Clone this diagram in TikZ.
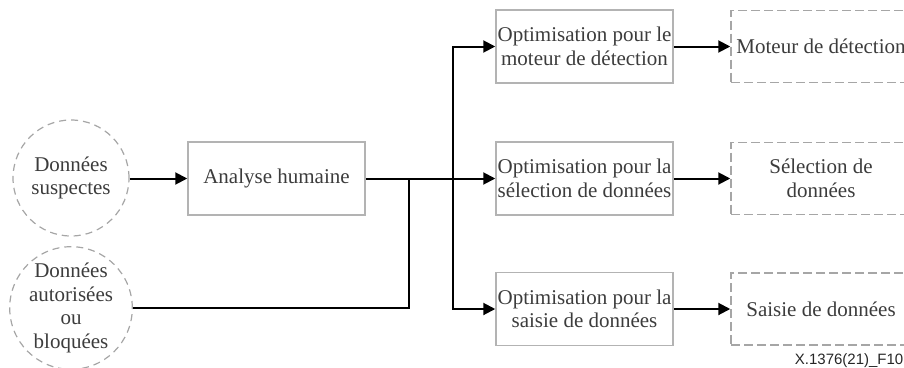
\documentclass[tikz,border=0pt]{standalone}
\usepackage{fontspec}
\setmainfont{Liberation Serif}
\newfontfamily\labelfont{Liberation Sans}
\usetikzlibrary{arrows.meta}
\definecolor{txt}{HTML}{3C3C3C}
\definecolor{boxline}{HTML}{B3B3B3}
\definecolor{dashline}{HTML}{A6A6A6}
\tikzset{
  base/.style={text=txt, font=\fontsize{21}{23.5}\selectfont, align=center, inner sep=0pt},
  procbox/.style={base, draw=boxline, line width=1.5pt, minimum width=177pt, minimum height=73pt},
  extbox/.style={base, draw=dashline, line width=1.5pt, dash pattern=on 9pt off 4pt, minimum width=180pt, minimum height=72pt},
  srccircle/.style={base, circle, draw=dashline, line width=1.2pt, dash pattern=on 7pt off 5pt, minimum size=116pt},
  flow/.style={line width=2pt, black},
  arr/.style={flow, -{Triangle[length=12pt,width=12pt]}},
}
\begin{document}
\begin{tikzpicture}[x=1pt,y=-1pt]
\useasboundingbox (0,0) rectangle (904,367);
\clip (0,0) rectangle (904,367);

% sources
\node[srccircle] (src1) at (71,178) {Données\\suspectes};
\node[srccircle] (src2) at (71,308) {Données\\autorisées\\ou\\bloquées};

% analysis
\node[procbox] (ana) at (276.5,178.5) {Analyse humaine};

% optimisation stages
\node[procbox] (opt1) at (584.5,46.5) {Optimisation pour le\\moteur de détection};
\node[procbox] (opt2) at (584.5,178.5) {Optimisation pour la\\sélection de données};
\node[procbox] (opt3) at (584.5,309) {Optimisation pour la\\saisie de données};

% consumers
\node[extbox] (ext1) at (821,46.5) {Moteur de détection};
\node[extbox] (ext2) at (821,178.5) {Sélection de\\données};
\node[extbox] (ext3) at (821,309) {Saisie de données};

% junctions
\coordinate (merge) at (409,178.5);
\coordinate (fan) at (453,178.5);

% connectors
\draw[arr] (src1.east |- ana.west) -- (ana.west);
\draw[arr] (ana.east) -- (opt2.west);
\draw[flow] (src2.east) -| (merge);
\draw[arr] (fan) |- (opt1.west);
\draw[arr] (fan) |- (opt3.west);
\draw[arr] (opt1.east) -- (ext1.west);
\draw[arr] (opt2.east) -- (ext2.west);
\draw[arr] (opt3.east) -- (ext3.west);

% figure tag
\node[anchor=east, inner sep=0pt, font=\labelfont\fontsize{15}{17}\selectfont, text=black!85] (tag) at (903.5,361) {X.1376(21)\_F10};
\end{tikzpicture}
\end{document}
